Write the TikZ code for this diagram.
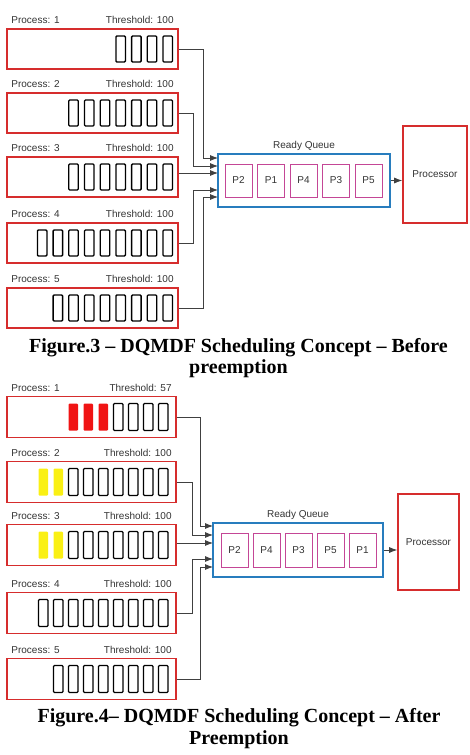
\documentclass[tikz,border=0pt]{standalone}
\usepackage{fontspec}
\setmainfont{Liberation Serif}
\setsansfont{Liberation Sans}
\usetikzlibrary{arrows.meta,positioning,calc}
\definecolor{procred}{RGB}{214,45,45}
\definecolor{queueblue}{RGB}{40,125,190}
\definecolor{jobpink}{RGB}{196,70,150}
\definecolor{hotred}{RGB}{240,20,20}
\definecolor{hotyellow}{RGB}{250,240,20}
\begin{document}
\begin{tikzpicture}[x=1pt,y=-1pt,font=\sffamily\fontsize{10}{12}\selectfont,>={Latex[length=8pt,width=6pt]},
 procbox/.style={draw=procred,line width=1.6pt,minimum width=171pt,minimum height=40pt,inner sep=0pt},
 procboxb/.style={procbox,minimum width=169pt,minimum height=41pt},
 lbl/.style={text=black!80,inner sep=0pt},
 cell/.style={draw=black,line width=1.3pt,rounded corners=1pt},
 hotcell/.style={rounded corners=1pt},
 queue/.style={draw=queueblue,line width=1.5pt,inner sep=0pt},
 jobbox/.style={draw=jobpink,line width=0.9pt,minimum width=27pt,minimum height=33pt,inner sep=0pt,text=black!80},
 cpu/.style={draw=procred,line width=1.6pt,inner sep=0pt,text=black!80},
 conn/.style={draw=black!75,line width=0.8pt,->},
 caption/.style={font=\rmfamily\bfseries\fontsize{20}{21.5}\selectfont,align=center,inner sep=0pt}]
\useasboundingbox (0,0) rectangle (469,755);
% Figure 3: before preemption
\foreach \k/\y in {1/49,2/113,3/177,4/243,5/308}{
 \node[procbox] (a\k) at (92.5,\y) {};
 \node[lbl,anchor=base west] (na\k) at ([xshift=5pt,yshift=4.5pt]a\k.north west) {Process: \k};
 \node[lbl,anchor=base east] (ta\k) at ([xshift=-5pt,yshift=4.5pt]a\k.north east) {Threshold: 100};
}
\foreach \n/\y in {4/49,7/113,7/177,9/243,8/308}
 \foreach \i in {1,...,\n}
  \draw[cell] ({172.5-(\i-1)*15.7},{\y-13}) rectangle ++(-9.5,26);
\node[queue,minimum width=172pt,minimum height=53pt] (rqa) at (304,180.5) {};
\node[lbl,anchor=base] (rla) at ([yshift=4.5pt]rqa.north) {Ready Queue};
\foreach \p [count=\k] in {P2,P1,P4,P3,P5}
 \node[jobbox] (qa\k) at ({238.5+(\k-1)*32.5},180.5) {\p};
\node[cpu,minimum width=64pt,minimum height=97pt] (cpua) at (435,174.5) {Processor};
\coordinate (ia1) at (218,158);
\coordinate (ia2) at (218,166);
\coordinate (ia3) at (218,173);
\coordinate (ia4) at (218,190);
\coordinate (ia5) at (218,197);
\draw[conn] (a1.east) -- ++(25,0) |- (ia1);
\draw[conn] (a2.east) -- ++(15,0) |- (ia2);
\draw[conn] (ia3 -| a3.east) -- (ia3);
\draw[conn] (a4.east) -- ++(15,0) |- (ia4);
\draw[conn] (a5.east) -- ++(25,0) |- (ia5);
\draw[conn] (rqa.east) -- (rqa.east -| cpua.west);
\node[caption,anchor=base] (capa) at (238.5,373.5) {Figure.3 – DQMDF Scheduling Concept – Before\\preemption};
% Figure 4: after preemption
\foreach \k/\y/\t in {1/417/57,2/482/100,3/545/100,4/613/100,5/679/100}{
 \node[procboxb] (b\k) at (91.5,\y) {};
 \node[lbl,anchor=base west] (nb\k) at ([xshift=5pt,yshift=4.5pt]b\k.north west) {Process: \k};
 \node[lbl,anchor=base east] (tb\k) at ([xshift=-5pt,yshift=4.5pt]b\k.north east) {Threshold: \t};
}
\foreach \n/\y in {4/417,7/482,7/545,9/613,8/679}
 \foreach \i in {1,...,\n}
  \draw[cell] ({168-(\i-1)*15},{\y-13.5}) rectangle ++(-9.5,27);
\foreach \i in {5,6,7}
 \fill[hotcell,hotred] ({168-(\i-1)*15},{417-13.5}) rectangle ++(-9.5,27);
\foreach \y in {482,545}
 \foreach \i in {8,9}
  \fill[hotcell,hotyellow] ({168-(\i-1)*15},{\y-13.5}) rectangle ++(-9.5,27);
\node[queue,minimum width=170pt,minimum height=54pt] (rqb) at (298,550) {};
\node[lbl,anchor=base] (rlb) at ([yshift=4.5pt]rqb.north) {Ready Queue};
\foreach \p [count=\k] in {P2,P4,P3,P5,P1}
 \node[jobbox,minimum height=34pt] (qb\k) at ({234.5+(\k-1)*32},550) {\p};
\node[cpu,minimum width=61pt,minimum height=96pt] (cpub) at (428.5,542) {Processor};
\coordinate (ib1) at (213,526);
\coordinate (ib2) at (213,535);
\coordinate (ib3) at (213,543);
\coordinate (ib4) at (213,559);
\coordinate (ib5) at (213,567);
\draw[conn] (b1.east) -- ++(24,0) |- (ib1);
\draw[conn] (b2.east) -- ++(16,0) |- (ib2);
\draw[conn] (ib3 -| b3.east) -- (ib3);
\draw[conn] (b4.east) -- ++(16,0) |- (ib4);
\draw[conn] (b5.east) -- ++(24,0) |- (ib5);
\draw[conn] (rqb.east) -- (rqb.east -| cpub.west);
\node[caption,anchor=base] (capb) at (239,744) {Figure.4– DQMDF Scheduling Concept – After\\Preemption};
\end{tikzpicture}
\end{document}
